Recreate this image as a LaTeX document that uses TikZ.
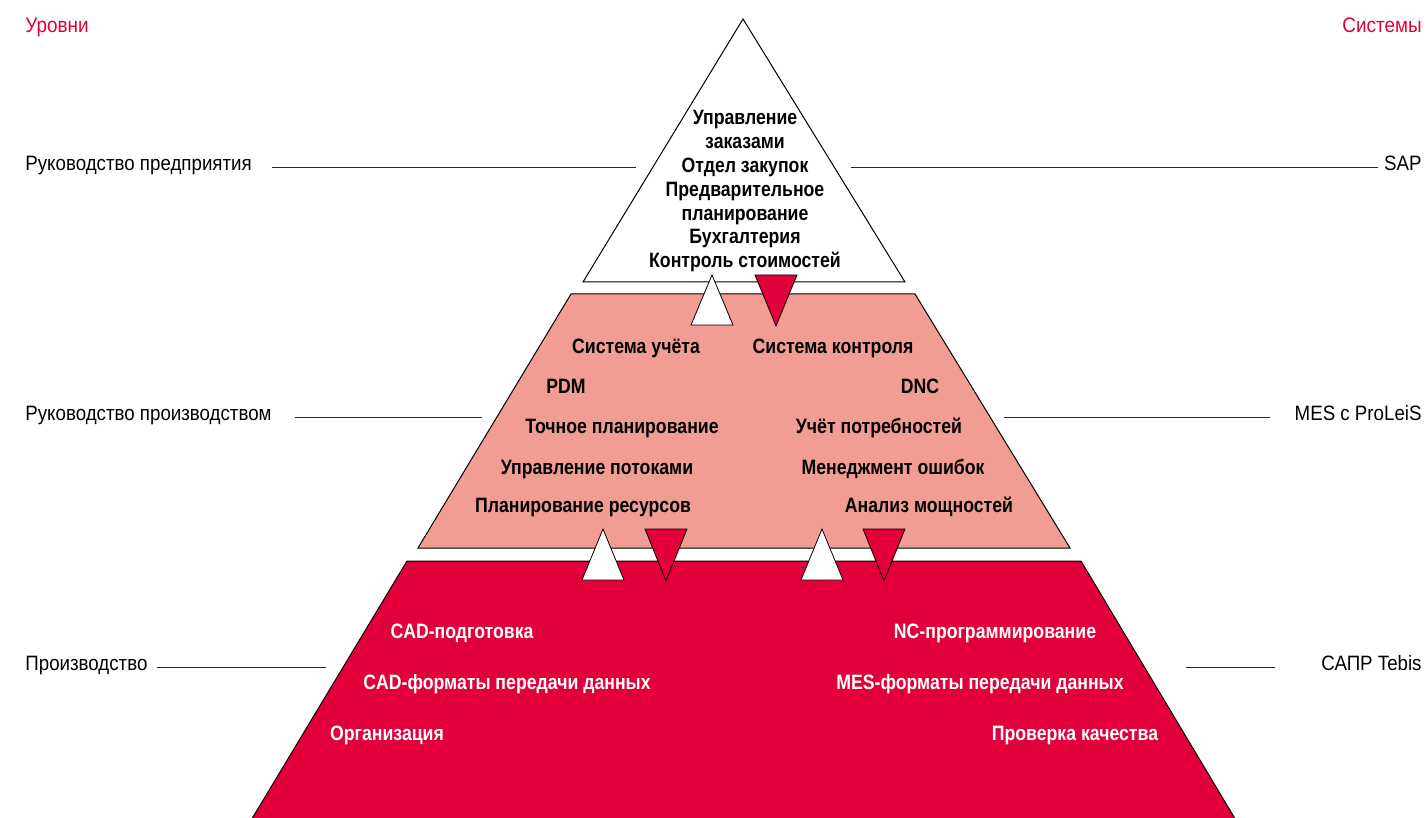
\documentclass[tikz,border=0pt]{standalone}
\usepackage{fontspec}
\setmainfont{Liberation Sans}[FakeStretch=0.9]
\newfontfamily\pyrfont{Liberation Sans}[FakeStretch=0.85]
\usetikzlibrary{calc}

\definecolor{pyrred}{RGB}{227,0,58}
\definecolor{pyrsalmon}{RGB}{242,157,147}

\begin{document}
\begin{tikzpicture}[
		x=0.5pt, y=-0.5pt,
		% Pyramid levels
		levelbox/.style={draw=black, line width=0.5pt, fill=#1},
		% Small exchange triangles between the levels
		flowup/.style={draw=black, line width=0.4pt, fill=white},
		flowdown/.style={draw=black, line width=0.4pt, fill=pyrred},
		% Texts
		sidelabel/.style={font=\fontsize{10.4}{12}\selectfont, inner sep=0pt},
		headlabel/.style={font=\fontsize{10.5}{12}\selectfont, text=pyrred, inner sep=0pt},
		pyrtext/.style={font=\pyrfont\bfseries\fontsize{10.4}{12}\selectfont, inner sep=0pt, anchor=base},
		leader/.style={draw=black!85, line width=0.5pt}
	]

	\useasboundingbox (0,0) rectangle (1426,818);

	% ==========================================
	% 1. PYRAMID LEVELS
	% ==========================================

	% Top: company management
	\draw[levelbox=white] (743,19) -- (905,282) -- (583,282) -- cycle;

	% Middle: production management
	\draw[levelbox=pyrsalmon] (571,294) -- (915,294) -- (1070,548) -- (418,548) -- cycle;

	% Bottom: production
	\draw[levelbox=pyrred] (407,561) -- (1081,561) -- (1237,822) -- (250,822) -- cycle;

	% ==========================================
	% 2. EXCHANGE TRIANGLES
	% ==========================================

	\foreach \ux/\dx/\ty/\by in {712/776/275/325, 603/666/529/580, 822/884/529/580}{
		\draw[flowup] (\ux,\ty) -- (\ux+21,\by) -- (\ux-21,\by) -- cycle;
		\draw[flowdown] (\dx-21,\ty) -- (\dx+21,\ty) -- (\dx,\by+1) -- cycle;
	}

	% ==========================================
	% 3. TEXTS INSIDE THE PYRAMID
	% ==========================================

	% Top level
	\foreach \txt [count=\i from 0] in {Управление, заказами, Отдел закупок,
			Предварительное, планирование, Бухгалтерия, Контроль стоимостей}
	\node[pyrtext] (top\i) at (745,125+23.8*\i) {\txt};

	% Middle level (left column)
	\node[pyrtext] (acc)   at (636,354) {Система учёта};
	\node[pyrtext] (pdm)   at (566,394) {PDM};
	\node[pyrtext] (fine)  at (622,434) {Точное планирование};
	\node[pyrtext] (flow)  at (597,474) {Управление потоками};
	\node[pyrtext] (res)   at (583,513) {Планирование ресурсов};

	% Middle level (right column)
	\node[pyrtext] (ctrl)  at (833,354) {Система контроля};
	\node[pyrtext] (dnc)   at (920,394) {DNC};
	\node[pyrtext] (need)  at (879,434) {Учёт потребностей};
	\node[pyrtext] (err)   at (893,474) {Менеджмент ошибок};
	\node[pyrtext] (cap)   at (929,513) {Анализ мощностей};

	% Bottom level (white text)
	\node[pyrtext, text=white] (cadprep) at (462,639) {CAD-подготовка};
	\node[pyrtext, text=white] (cadfmt)  at (507,689) {CAD-форматы передачи данных};
	\node[pyrtext, text=white] (org)     at (387,740) {Организация};
	\node[pyrtext, text=white] (ncprog)  at (995,639) {NC-программирование};
	\node[pyrtext, text=white] (mesfmt)  at (980,689) {MES-форматы передачи данных};
	\node[pyrtext, text=white] (qual)    at (1075,740) {Проверка качества};

	% ==========================================
	% 4. LEVEL AND SYSTEM LABELS
	% ==========================================

	\node[headlabel, anchor=base west] (levels)  at (25,33) {Уровни};
	\node[headlabel, anchor=base east] (systems) at (1422,33) {Системы};

	\node[sidelabel, anchor=base west] (lvlA) at (25,171) {Руководство предприятия};
	\node[sidelabel, anchor=base west] (lvlB) at (25,421) {Руководство производством};
	\node[sidelabel, anchor=base west] (lvlC) at (25,670) {Производство};

	\node[sidelabel, anchor=base east] (sysA) at (1422,171) {SAP};
	\node[sidelabel, anchor=base east] (sysB) at (1422,421) {MES с ProLeiS};
	\node[sidelabel, anchor=base east] (sysC) at (1422,670) {САПР Tebis};

	% Leader lines
	\coordinate (lA1) at (272,168);  \coordinate (lA2) at (636,168);
	\coordinate (rA1) at (851,168);  \coordinate (rA2) at (1378,168);
	\coordinate (lB1) at (295,418);  \coordinate (lB2) at (482,418);
	\coordinate (rB1) at (1004,418); \coordinate (rB2) at (1270,418);
	\coordinate (lC1) at (157,667);  \coordinate (lC2) at (326,667);
	\coordinate (rC1) at (1186,667); \coordinate (rC2) at (1275,667);

	\draw[leader] (lA1) -- (lA2);
	\draw[leader] (rA1) -- (rA2);
	\draw[leader] (lB1) -- (lB2);
	\draw[leader] (rB1) -- (rB2);
	\draw[leader] (lC1) -- (lC2);
	\draw[leader] (rC1) -- (rC2);

\end{tikzpicture}
\end{document}
